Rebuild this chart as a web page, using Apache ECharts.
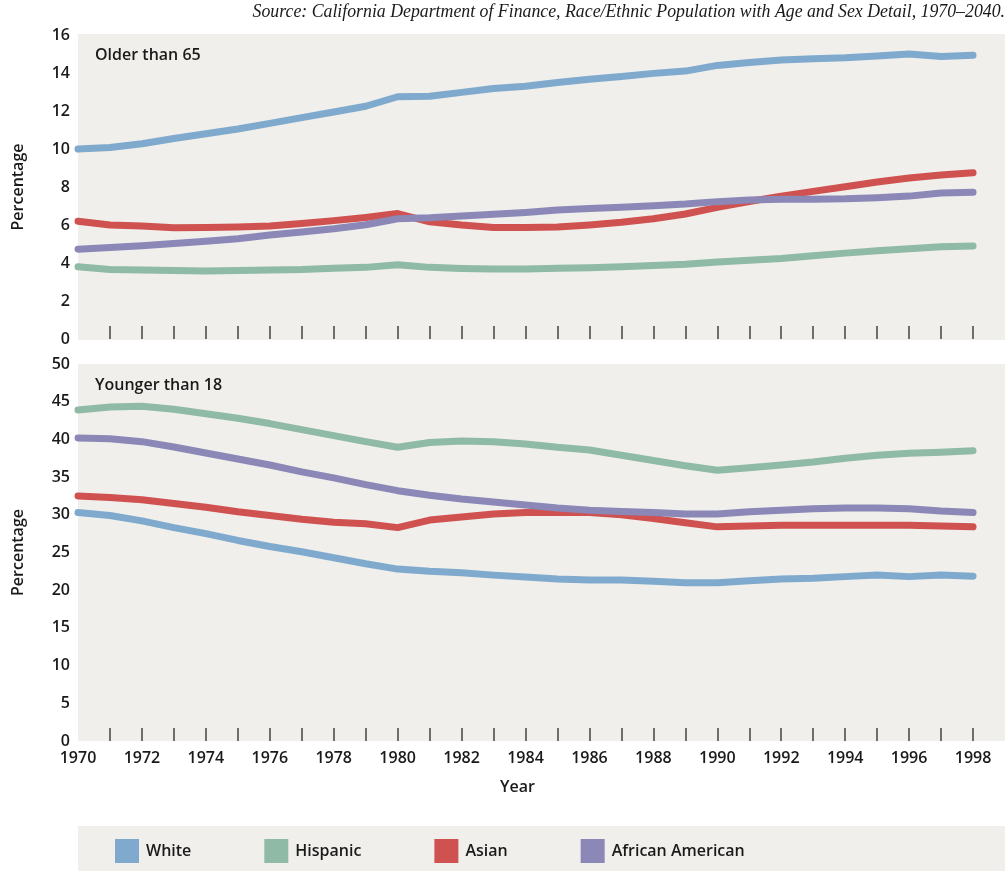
<!DOCTYPE html>
<html>
<head>
<meta charset="utf-8">
<script src="https://cdn.jsdelivr.net/npm/echarts@6/dist/echarts.min.js"></script>
<style>
html,body{margin:0;padding:0;background:#fff;}
#chart{width:1008px;height:871px;}
</style>
</head>
<body>
<div id="chart"></div>
<script>
// ---- data ----
const years = [1970,1971,1972,1973,1974,1975,1976,1977,1978,1979,1980,1981,1982,1983,1984,1985,1986,1987,1988,1989,1990,1991,1992,1993,1994,1995,1996,1997,1998];
const axisYears = years.concat([1999]); // padding slot so the plot extends past 1998
const seriesNames = ['White','Hispanic','Asian','African American'];
const seriesColors = ['#7faacd','#8fbaa5','#cf5250','#8b87b7'];

// Older than 65 (percentage)
const older_white    = [10.0,10.08,10.28,10.55,10.8,11.05,11.35,11.65,11.95,12.25,12.75,12.78,12.98,13.18,13.3,13.5,13.67,13.82,13.98,14.1,14.4,14.55,14.68,14.75,14.8,14.9,15.0,14.87,14.93];
const older_hispanic = [3.8,3.66,3.63,3.61,3.58,3.61,3.63,3.66,3.73,3.77,3.91,3.77,3.71,3.68,3.68,3.72,3.75,3.8,3.87,3.93,4.05,4.15,4.24,4.38,4.52,4.65,4.75,4.86,4.89];
const older_asian    = [6.2,6.0,5.95,5.85,5.87,5.9,5.95,6.08,6.23,6.4,6.6,6.17,6.0,5.87,5.87,5.89,6.0,6.14,6.33,6.58,6.93,7.24,7.52,7.77,8.01,8.26,8.47,8.63,8.75];
const older_afam     = [4.73,4.82,4.91,5.03,5.15,5.28,5.47,5.63,5.8,6.01,6.33,6.38,6.47,6.56,6.66,6.79,6.87,6.94,7.01,7.1,7.23,7.31,7.35,7.36,7.38,7.44,7.52,7.68,7.72];

// Younger than 18 (percentage)
const young_white    = [30.3,29.9,29.2,28.3,27.5,26.6,25.8,25.1,24.3,23.5,22.8,22.5,22.3,22.0,21.75,21.5,21.35,21.35,21.2,21.0,21.0,21.25,21.5,21.6,21.8,22.0,21.8,22.0,21.85];
const young_hispanic = [43.9,44.3,44.4,44.0,43.4,42.8,42.1,41.3,40.5,39.7,38.95,39.6,39.8,39.7,39.4,38.95,38.6,37.9,37.2,36.5,35.9,36.25,36.6,37.0,37.5,37.9,38.15,38.3,38.5];
const young_asian    = [32.5,32.3,32.0,31.5,31.0,30.4,29.9,29.4,29.0,28.8,28.3,29.3,29.7,30.1,30.3,30.3,30.3,30.0,29.5,28.95,28.4,28.5,28.6,28.6,28.6,28.6,28.6,28.5,28.4];
const young_afam     = [40.2,40.1,39.7,39.0,38.2,37.4,36.6,35.7,34.9,34.0,33.2,32.6,32.1,31.7,31.3,30.9,30.6,30.45,30.3,30.1,30.1,30.4,30.6,30.8,30.9,30.9,30.8,30.5,30.3];

const olderTicks = {min:0, max:16, interval:2};
const youngTicks = {min:0, max:50, interval:5};
const panelTitles = ['Older than 65','Younger than 18'];
const sourceText = 'Source: California Department of Finance, Race/Ethnic Population with Age and Sex Detail, 1970\u20132040.';
const xTitle = 'Year';
const yTitle = 'Percentage';

// ---- chart ----
const FONT = '"Open Sans", "Noto Sans", sans-serif';
const BG = '#f0efeb';
const textStyle = {fontFamily: FONT, fontSize: 16, fontWeight: 600, color: '#1a1a1a'};

function xAxisCfg(gridIndex, showLabels){
  return {
    type:'category', gridIndex, data: axisYears.map(String), boundaryGap:false,
    axisLine:{show:false},
    axisTick:{show:true, inside:true, length:13, interval:(i)=> i>0 && i<axisYears.length-1, lineStyle:{color:'#444', width:1.5}},
    axisLabel:{show:showLabels, interval:(i)=> i%2===0 && i<axisYears.length-1, margin:9, ...textStyle},
    splitLine:{show:false}
  };
}
function yAxisCfg(gridIndex, t){
  return {
    type:'value', gridIndex, min:t.min, max:t.max, interval:t.interval,
    axisLine:{show:false}, axisTick:{show:false}, splitLine:{show:false},
    axisLabel:{margin:8, ...textStyle},
    name: yTitle, nameLocation:'middle', nameGap:52, nameRotate:90,
    nameTextStyle:{...textStyle}
  };
}
const olderData = [older_white, older_hispanic, older_asian, older_afam];
const youngData = [young_white, young_hispanic, young_asian, young_afam];
const series = [];
[olderData, youngData].forEach((set, gi)=>{
  set.forEach((d, si)=>{
    series.push({
      type:'line', name: seriesNames[si], xAxisIndex:gi, yAxisIndex:gi,
      data:d, showSymbol:false, symbol:'none', smooth:false,
      lineStyle:{color:seriesColors[si], width:7, cap:'round', join:'round'},
      itemStyle:{color:seriesColors[si]},
      emphasis:{disabled:true}, silent:true, z: 2
    });
  });
});

const chart = echarts.init(document.getElementById('chart'), null, {renderer:'canvas'});
chart.setOption({
  animation:false,
  backgroundColor:'#ffffff',
  grid:[
    {left:78, top:35, width:927, height:304, show:true, backgroundColor:BG, borderWidth:0},
    {left:78, top:364, width:927, height:377, show:true, backgroundColor:BG, borderWidth:0}
  ],
  xAxis:[xAxisCfg(0,false), xAxisCfg(1,true)],
  yAxis:[yAxisCfg(0, olderTicks), yAxisCfg(1, youngTicks)],
  series,
  legend:{
    data: seriesNames, left:110, top:834, itemWidth:24, itemHeight:24, itemGap:73,
    icon:'rect', textStyle:{...textStyle, padding:[0,0,0,2]}, selectedMode:false
  },
  graphic:[
    {type:'rect', left:78, top:826, shape:{width:927, height:45}, style:{fill:BG}, z:-1, silent:true},
    {type:'rect', left:78, top:34, shape:{width:927, height:2}, style:{fill:BG}, z:-1, silent:true},
    {type:'rect', left:78, top:338, shape:{width:927, height:2}, style:{fill:BG}, z:-1, silent:true},
    {type:'text', right:3, top:3, style:{text:sourceText, font:'italic 17.8px "Liberation Serif", "DejaVu Serif", serif', fill:'#1a1a1a'}},
    {type:'text', left:95, top:47, style:{text:panelTitles[0], font:'600 16px "Open Sans", "Noto Sans", sans-serif', fill:'#1a1a1a'}},
    {type:'text', left:95, top:377, style:{text:panelTitles[1], font:'600 16px "Open Sans", "Noto Sans", sans-serif', fill:'#1a1a1a'}},
    {type:'text', left:500, top:779, style:{text:xTitle, font:'600 16px "Open Sans", "Noto Sans", sans-serif', fill:'#1a1a1a'}}
  ]
});
</script>
</body>
</html>
